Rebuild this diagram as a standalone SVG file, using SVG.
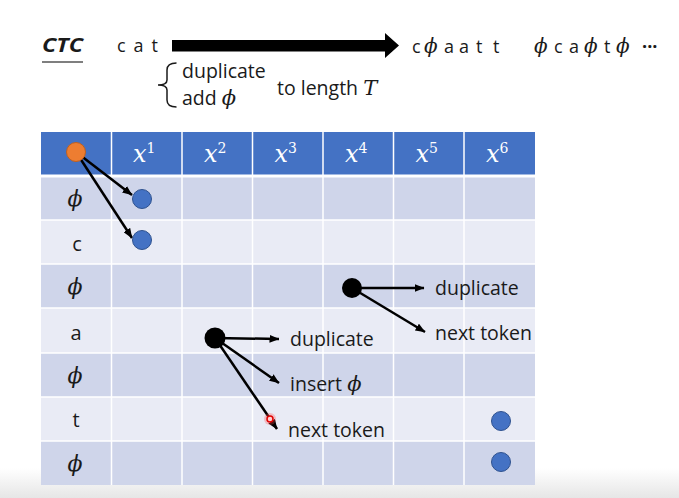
<svg xmlns="http://www.w3.org/2000/svg" width="679" height="498" viewBox="0 0 679 498">
<style>
.sans{font-family:"Open Sans","Noto Sans","Liberation Sans",sans-serif;fill:#1a1a1a}
.phi{font-family:"DejaVu Serif","Liberation Serif",serif;font-style:italic}
.hx{font-family:"DejaVu Serif","Liberation Serif",serif;font-style:italic;font-size:24px;fill:#ffffff}
.sup{font-style:normal;font-size:14px}
.rowlab{font-family:"Open Sans","Noto Sans","Liberation Sans",sans-serif;font-size:20px;fill:#1a1a1a;text-anchor:middle}
.rowphi{font-family:"DejaVu Serif","Liberation Serif",serif;font-style:italic;font-size:22px;fill:#1a1a1a;text-anchor:middle}
.lab{font-family:"Open Sans","Noto Sans","Liberation Sans",sans-serif;font-size:19.5px;fill:#1a1a1a}
.conn{stroke:#000;stroke-width:2.5;fill:none;marker-end:url(#ah)}
.blue{fill:#4472C4;stroke:#2F528F;stroke-width:1}
.blk{fill:#000}
.grid{stroke:#ffffff;stroke-width:1.5}
.odd{fill:#CFD5EA}
.even{fill:#E9EBF5}
</style>
<defs>
<marker id="ah" markerUnits="userSpaceOnUse" markerWidth="10" markerHeight="8" refX="9.5" refY="4" orient="auto">
<path d="M0,0 L10,4 L0,8 z" fill="#000"/>
</marker>
<linearGradient id="bot" x1="0" y1="0" x2="0" y2="1">
<stop offset="0" stop-color="#ffffff"/>
<stop offset="1" stop-color="#e6e6e6"/>
</linearGradient>
</defs>
<rect x="0" y="0" width="679" height="498" fill="#ffffff"/>
<rect x="0" y="468" width="679" height="30" fill="url(#bot)"/>

<g id="title">
<text x="42" y="51.5" class="sans" font-size="20" font-weight="bold" font-style="italic" textLength="41" lengthAdjust="spacingAndGlyphs">CTC</text>
<line x1="42" y1="62" x2="83" y2="62" stroke="#555" stroke-width="1.5"/>
<text x="117" y="52" class="sans" font-size="18" textLength="41" lengthAdjust="spacing">c a t</text>
<polygon points="172,40 385,40 385,33 399,45.5 385,58 385,51.5 172,51.5" fill="#000"/>
<text y="53" class="sans" font-size="18"><tspan x="412">c</tspan><tspan x="424" class="phi" font-size="20">ϕ</tspan><tspan x="444">a</tspan><tspan x="459">a</tspan><tspan x="476">t</tspan><tspan x="493">t</tspan></text>
<text y="53" class="sans" font-size="18"><tspan x="534" class="phi" font-size="20">ϕ</tspan><tspan x="554">c</tspan><tspan x="569">a</tspan><tspan x="584" class="phi" font-size="20">ϕ</tspan><tspan x="604">t</tspan><tspan x="616" class="phi" font-size="20">ϕ</tspan><tspan x="642" font-weight="bold">···</tspan></text>
<path d="M176.5,63 C170,63 167,65 167,70 L167,80 C167,83 164,85 158,85 C164,85 167,87 167,90 L167,100 C167,105 170,107 176.5,107" fill="none" stroke="#1a1a1a" stroke-width="1.5"/>
<text x="182" y="78" class="sans" font-size="19.5">duplicate</text>
<text x="182" y="105" class="sans" font-size="19.5">add <tspan class="phi" font-size="21">ϕ</tspan></text>
<text x="277" y="95" class="sans" font-size="19.5">to length <tspan class="phi" font-family="Liberation Serif" font-size="21">T</tspan></text>
</g>

<g id="table">
<rect x="41" y="132" width="494" height="44" fill="#4472C4"/>
<rect x="41" y="176" width="494" height="44" class="odd"/>
<rect x="41" y="220" width="494" height="44" class="even"/>
<rect x="41" y="264" width="494" height="44" class="odd"/>
<rect x="41" y="308" width="494" height="45" class="even"/>
<rect x="41" y="353" width="494" height="44" class="odd"/>
<rect x="41" y="397" width="494" height="44" class="even"/>
<rect x="41" y="441" width="494" height="44" class="odd"/>
<line x1="41" y1="176" x2="535" y2="176" stroke="#ffffff" stroke-width="3"/>
<line x1="41" y1="220" x2="535" y2="220" class="grid"/>
<line x1="41" y1="264" x2="535" y2="264" class="grid"/>
<line x1="41" y1="308" x2="535" y2="308" class="grid"/>
<line x1="41" y1="353" x2="535" y2="353" class="grid"/>
<line x1="41" y1="397" x2="535" y2="397" class="grid"/>
<line x1="41" y1="441" x2="535" y2="441" class="grid"/>
<line x1="111.5" y1="132" x2="111.5" y2="485" class="grid"/>
<line x1="182" y1="132" x2="182" y2="485" class="grid"/>
<line x1="252.5" y1="132" x2="252.5" y2="485" class="grid"/>
<line x1="323" y1="132" x2="323" y2="485" class="grid"/>
<line x1="393.5" y1="132" x2="393.5" y2="485" class="grid"/>
<line x1="464" y1="132" x2="464" y2="485" class="grid"/>
<text x="133" y="162" class="hx">x<tspan class="sup" dy="-9">1</tspan></text>
<text x="204" y="162" class="hx">x<tspan class="sup" dy="-9">2</tspan></text>
<text x="274.5" y="162" class="hx">x<tspan class="sup" dy="-9">3</tspan></text>
<text x="345" y="162" class="hx">x<tspan class="sup" dy="-9">4</tspan></text>
<text x="415.5" y="162" class="hx">x<tspan class="sup" dy="-9">5</tspan></text>
<text x="486" y="162" class="hx">x<tspan class="sup" dy="-9">6</tspan></text>
<text x="75" y="206" class="rowphi">ϕ</text>
<text x="77" y="251" class="rowlab">c</text>
<text x="75" y="294" class="rowphi">ϕ</text>
<text x="76" y="340" class="rowlab">a</text>
<text x="75" y="383" class="rowphi">ϕ</text>
<text x="76" y="427" class="rowlab">t</text>
<text x="75" y="471" class="rowphi">ϕ</text>
</g>

<g id="connectors">
<line x1="76" y1="152" x2="132" y2="195" class="conn"/>
<line x1="76" y1="152" x2="132" y2="238" class="conn"/>
<line x1="352" y1="288" x2="424" y2="288" class="conn"/>
<line x1="352" y1="288" x2="425" y2="332" class="conn"/>
<line x1="215" y1="338" x2="279" y2="339" class="conn"/>
<line x1="215" y1="338" x2="279" y2="383" class="conn"/>
<line x1="215" y1="338" x2="277" y2="429" class="conn"/>
</g>

<g id="start"><circle cx="76" cy="152" r="9.5" fill="#ED7D31" stroke="#C0601F" stroke-width="1"/></g>
<g id="phi-x1"><circle cx="142" cy="199" r="9.5" class="blue"/></g>
<g id="c-x1"><circle cx="142" cy="240" r="9.5" class="blue"/></g>
<g id="t-x6"><circle cx="501" cy="421" r="9.5" class="blue"/></g>
<g id="phi-x6"><circle cx="501" cy="462" r="9.5" class="blue"/></g>

<g id="node-phi-x4">
<circle cx="352" cy="288" r="10" class="blk"/>
<text x="435" y="295" class="lab">duplicate</text>
<text x="435" y="340" class="lab">next token</text>
</g>
<g id="node-a-x2">
<circle cx="215" cy="338" r="10.5" class="blk"/>
<text x="290" y="346" class="lab">duplicate</text>
<text x="290" y="391" class="lab">insert <tspan class="phi" font-size="21">ϕ</tspan></text>
<text x="288" y="437" class="lab">next token</text>
</g>
<g id="pointer">
<circle cx="270" cy="419" r="6" fill="#ff5050" opacity="0.3"/>
<circle cx="270" cy="419" r="3" fill="#ffd0d0" stroke="#e00000" stroke-width="1.5"/>
</g>
</svg>
